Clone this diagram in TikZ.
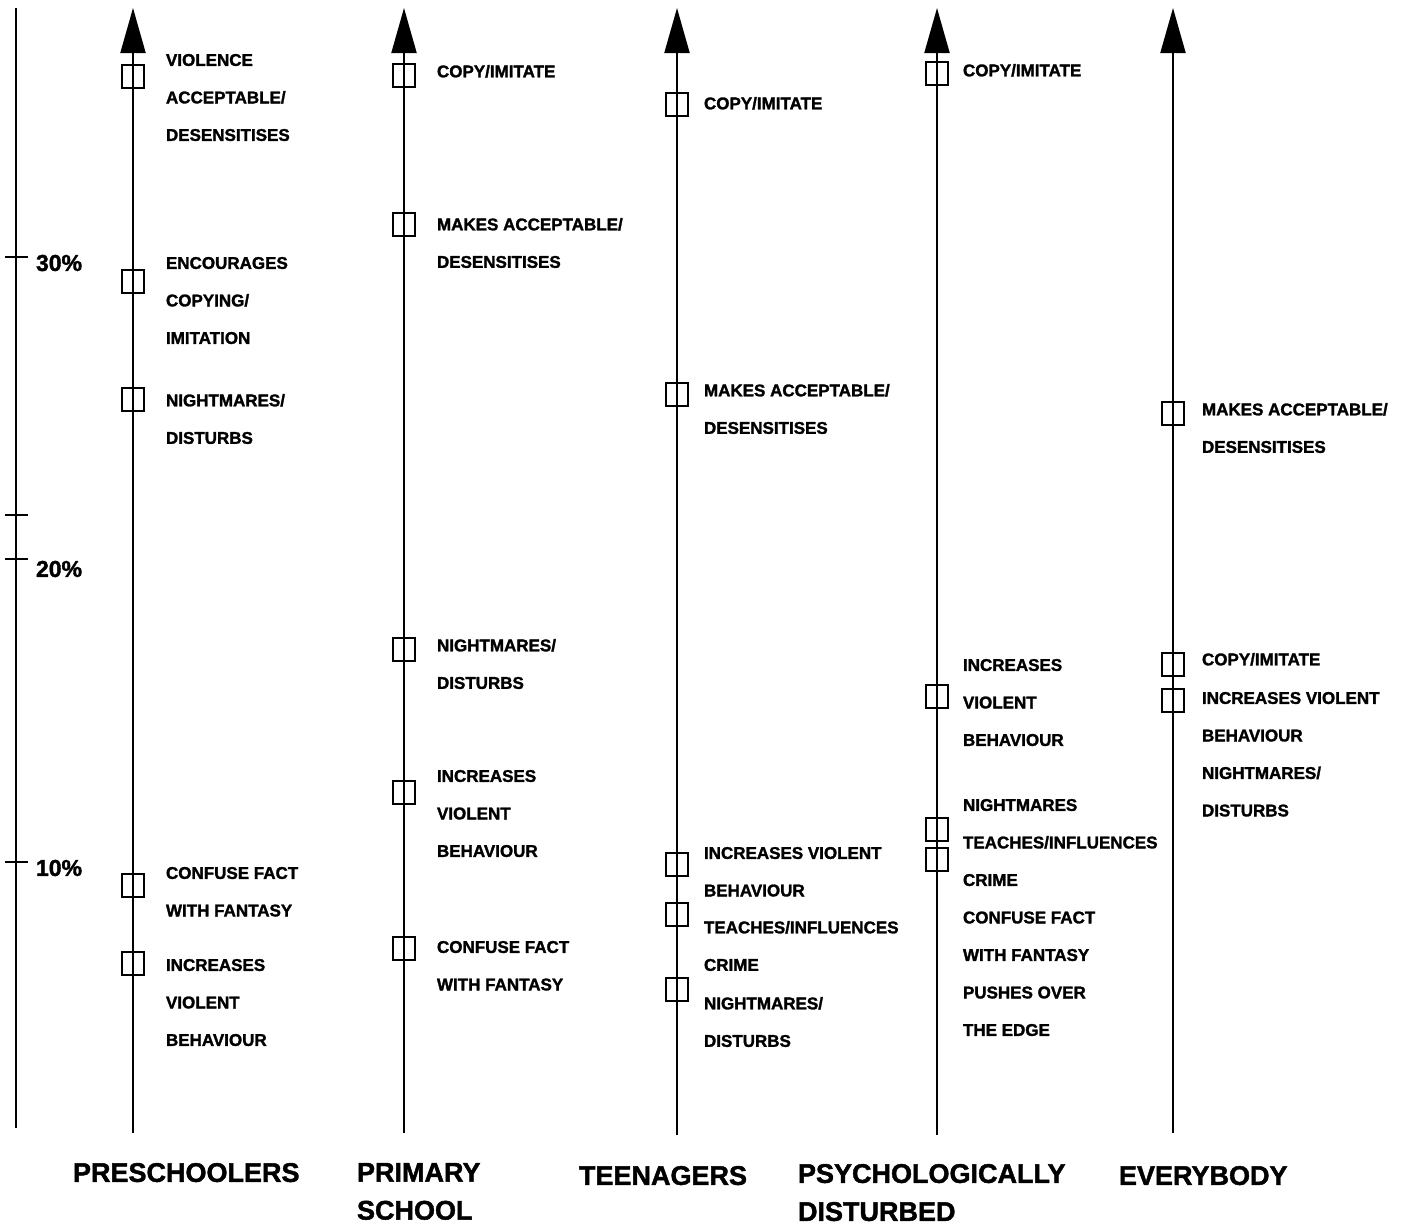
\documentclass[tikz,border=0pt]{standalone}
\usepackage{fontspec}
\setmainfont{Liberation Sans}[BoldFeatures={FakeBold=1.6}]
\usepackage{xcolor}
\usetikzlibrary{arrows.meta}
\newcommand{\efont}{\fontsize{17}{37.5}\selectfont\bfseries}
\newcommand{\gfont}{\fontsize{27}{38}\selectfont\bfseries}

\begin{document}
\begin{tikzpicture}[x=1pt, y=-1pt, line width=2pt,
  every node/.style={inner sep=0pt},
  sqbox/.style={draw, minimum width=22pt, minimum height=23pt},
  effect/.style={anchor=north west, align=left, font=\efont},
  group/.style={anchor=north west, align=left, font=\gfont},
  pct/.style={anchor=west, font=\fontsize{23}{23}\selectfont\bfseries},
  up/.style={-{Triangle[length=45pt, width=25pt]}}]
\useasboundingbox (0,0) rectangle (1405,1229);
% Scale
\coordinate (scaletop) at (16,8);
\coordinate (scalebot) at (16,1128);
\draw (scalebot) -- (scaletop);
\draw (5,257) -- (28,257);
\draw (5,515) -- (28,515);
\draw (5,559) -- (28,559);
\draw (5,862) -- (28,862);
\node[pct] (p30) at (35,263) {30\%};
\node[pct] (p20) at (35,569) {20\%};
\node[pct] (p10) at (35,868) {10\%};
% Preschoolers
\coordinate (pretop) at (133,8);
\coordinate (prebot) at (133,1133);
\draw[up] (prebot) -- (pretop);
\node[sqbox] (pre1) at (133,76) {};
\node[sqbox] (pre2) at (133,281) {};
\node[sqbox] (pre3) at (133,399) {};
\node[sqbox] (pre4) at (133,885) {};
\node[sqbox] (pre5) at (133,963) {};
\node[effect] (pretext1) at (165,53) {VIOLENCE\\ACCEPTABLE/\\DESENSITISES};
\node[effect] (pretext2) at (165,256) {ENCOURAGES\\COPYING/\\IMITATION};
\node[effect] (pretext3) at (165,393) {NIGHTMARES/\\DISTURBS};
\node[effect] (pretext4) at (165,866) {CONFUSE FACT\\WITH FANTASY};
\node[effect] (pretext5) at (165,958) {INCREASES\\VIOLENT\\BEHAVIOUR};
\node[group] (pregroup) at (72,1162) {PRESCHOOLERS};
% Primary school
\coordinate (primtop) at (404,8);
\coordinate (primbot) at (404,1133);
\draw[up] (primbot) -- (primtop);
\node[sqbox] (prim1) at (404,75) {};
\node[sqbox] (prim2) at (404,224) {};
\node[sqbox] (prim3) at (404,649) {};
\node[sqbox] (prim4) at (404,792) {};
\node[sqbox] (prim5) at (404,948) {};
\node[effect] (primtext1) at (436,64) {COPY/IMITATE};
\node[effect] (primtext2) at (436,217) {MAKES ACCEPTABLE/\\DESENSITISES};
\node[effect] (primtext3) at (436,638) {NIGHTMARES/\\DISTURBS};
\node[effect] (primtext4) at (436,769) {INCREASES\\VIOLENT\\BEHAVIOUR};
\node[effect] (primtext5) at (436,940) {CONFUSE FACT\\WITH FANTASY};
\node[group] (primgroup) at (356,1162) {PRIMARY\\SCHOOL};
% Teenagers
\coordinate (teentop) at (677,8);
\coordinate (teenbot) at (677,1135);
\draw[up] (teenbot) -- (teentop);
\node[sqbox] (teen1) at (677,104) {};
\node[sqbox] (teen2) at (677,394) {};
\node[sqbox] (teen3) at (677,864) {};
\node[sqbox] (teen4) at (677,914) {};
\node[sqbox] (teen5) at (677,989) {};
\node[effect] (teentext1) at (703,96) {COPY/IMITATE};
\node[effect] (teentext2) at (703,383) {MAKES ACCEPTABLE/\\DESENSITISES};
\node[effect] (teentext3) at (703,846) {INCREASES VIOLENT\\BEHAVIOUR};
\node[effect] (teentext4) at (703,920) {TEACHES/INFLUENCES\\CRIME};
\node[effect] (teentext5) at (703,996) {NIGHTMARES/\\DISTURBS};
\node[group] (teengroup) at (578,1165) {TEENAGERS};
% Psychologically disturbed
\coordinate (psytop) at (937,8);
\coordinate (psybot) at (937,1135);
\draw[up] (psybot) -- (psytop);
\node[sqbox] (psy1) at (937,73) {};
\node[sqbox] (psy2) at (937,696) {};
\node[sqbox] (psy3) at (937,829) {};
\node[sqbox] (psy4) at (937,859) {};
\node[effect] (psytext1) at (962,63) {COPY/IMITATE};
\node[effect] (psytext2) at (962,658) {INCREASES\\VIOLENT\\BEHAVIOUR};
\node[effect] (psytext3) at (962,798) {NIGHTMARES\\TEACHES/INFLUENCES\\CRIME\\CONFUSE FACT\\WITH FANTASY\\PUSHES OVER\\THE EDGE};
\node[group] (psygroup) at (797,1163) {PSYCHOLOGICALLY\\DISTURBED};
% Everybody
\coordinate (alltop) at (1173,8);
\coordinate (allbot) at (1173,1133);
\draw[up] (allbot) -- (alltop);
\node[sqbox] (all1) at (1173,413) {};
\node[sqbox] (all2) at (1173,664) {};
\node[sqbox] (all3) at (1173,700) {};
\node[effect] (alltext1) at (1201,402) {MAKES ACCEPTABLE/\\DESENSITISES};
\node[effect] (alltext2) at (1201,652) {COPY/IMITATE};
\node[effect] (alltext3) at (1201,691) {INCREASES VIOLENT\\BEHAVIOUR\\NIGHTMARES/\\DISTURBS};
\node[group] (allgroup) at (1118,1165) {EVERYBODY};
\end{tikzpicture}
\end{document}
